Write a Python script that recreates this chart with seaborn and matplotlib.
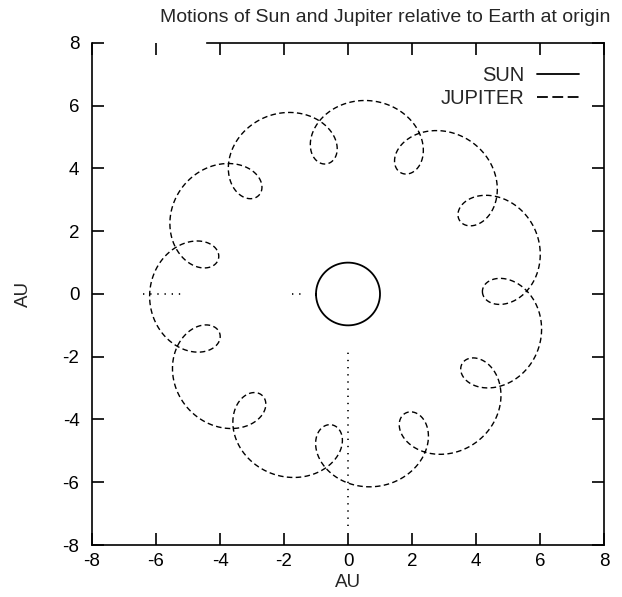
import numpy as np
import pandas as pd
import matplotlib
matplotlib.use("Agg")
import matplotlib.pyplot as plt
from matplotlib.lines import Line2D
import seaborn as sns

# Circular heliocentric orbits used for the model
bodies = ["Earth", "Jupiter"]
orbit_radius_au = [1.0, 5.2]
period_yr = [1.0, 12.0]
start_longitude_deg = [1.0, 1.0]
span_yr = 12.0

axis_ticks = [-8, -6, -4, -2, 0, 2, 4, 6, 8]
title = "Motions of Sun and Jupiter relative to Earth at origin"
legend_labels = ["SUN", "JUPITER"]


def heliocentric(i, t):
    ang = np.radians(start_longitude_deg[i]) + 2 * np.pi * t / period_yr[i]
    return orbit_radius_au[i] * np.cos(ang), orbit_radius_au[i] * np.sin(ang)


t = np.linspace(0, span_yr, 4000)
ex, ey = heliocentric(0, t)
jx, jy = heliocentric(1, t)
ts = np.linspace(0, 1.0, 400)
sx, sy = heliocentric(0, ts)

# positions seen from Earth
sun = pd.DataFrame({"x": -sx, "y": -sy, "t": ts})
jup = pd.DataFrame({"x": jx - ex, "y": jy - ey, "t": t})

sns.set_theme(style="white")
plt.rcParams["font.family"] = ["Liberation Sans", "DejaVu Sans"]
plt.rcParams["axes.unicode_minus"] = False

fig = plt.figure(figsize=(6.22, 5.97), dpi=100)
ax = fig.add_axes([0.1479, 0.0871, 0.8232, 0.8409])

sns.lineplot(data=sun, x="x", y="y", sort=False, estimator=None, ax=ax,
             color="black", lw=1.3, legend=False)
sns.lineplot(data=jup, x="x", y="y", sort=False, estimator=None, ax=ax,
             color="black", lw=1.0, legend=False)
ax.lines[1].set_dashes([4, 2.4])

# what is left of the dotted zero axes
dot = dict(color="black", lw=1.2, ls=(0, (0.8, 3.5)))
ax.axvline(0, ymin=(8 - 7.4) / 16, ymax=(8 - 1.8) / 16, **dot)
ax.axhline(0, xmin=(8 - 6.4) / 16, xmax=(8 - 5.1) / 16, **dot)
ax.axhline(0, xmin=(8 - 1.75) / 16, xmax=(8 - 1.35) / 16, **dot)

ax.set_xlim(-8, 8)
ax.set_ylim(-8, 8)
ax.set_xticks(axis_ticks)
ax.set_yticks(axis_ticks)
ax.tick_params(direction="in", length=8.5, width=1.2, labelsize=13.5, colors="black",
               bottom=True, left=True, top=True, right=True)
ax.tick_params(axis="x", pad=6)
ax.tick_params(axis="y", pad=9)
for s in ax.spines.values():
    s.set_color("black")
    s.set_linewidth(1.2)
ax.spines["top"].set_bounds(-4.4, 8)
ax.set_xlabel("AU", fontsize=13.5)
ax.set_ylabel("AU", fontsize=13.5)
ax.xaxis.set_label_coords(0.5, -0.058)
ax.yaxis.set_label_coords(-0.117, 0.5)
fig.text(385 / 622, 1 - 18 / 597, title, ha="center", va="center", fontsize=14)

handles = [Line2D([], [], color="black", lw=1.3),
           Line2D([], [], color="black", lw=1.3, dashes=[6, 2.5])]
ax.legend(handles, legend_labels, loc="upper right", frameon=False, markerfirst=False,
          fontsize=14.5, handlelength=2.1, handletextpad=0.6, labelspacing=0.2,
          borderaxespad=0.0, bbox_to_anchor=(0.967, 0.97))

fig.savefig("out.png", dpi=100)
